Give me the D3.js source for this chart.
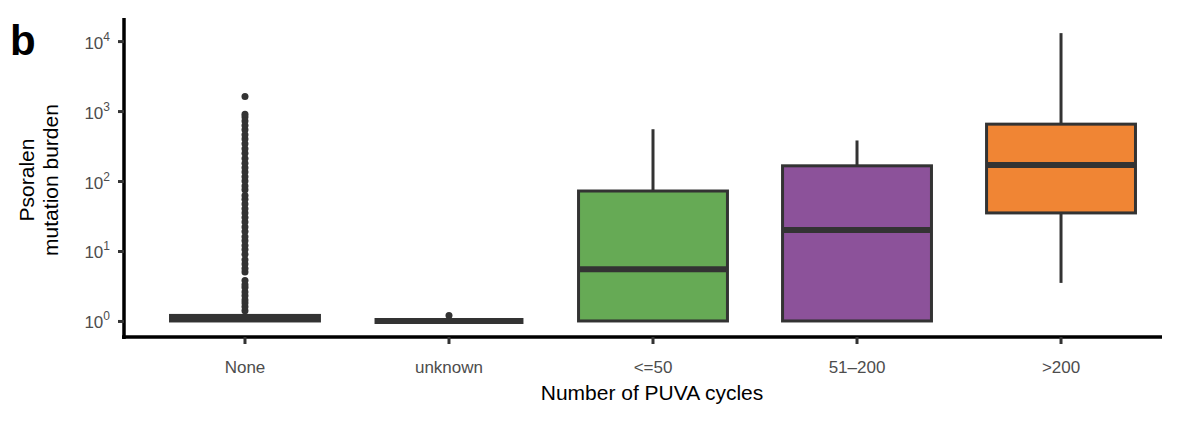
<!DOCTYPE html>
<html><head><meta charset="utf-8">
<script src="https://cdn.jsdelivr.net/npm/d3@7"></script>
<style>body{margin:0;background:#fff}text{font-family:"Liberation Sans",Arial,sans-serif}</style>
</head><body><div id="graph"></div>
<script>
var w = 1200, h = 424

var categories = ['None', 'unknown', '<=50', '51\u2013200', '>200']
var colors = ['#ffffff', '#ffffff', '#66aa55', '#8c529a', '#f08534']
// box stats: [whiskerLow, q1, median, q3, whiskerHigh]
var stats = [
  [1, 1.0, 1.1, 1.2, 1.2],
  [1, 1, 1, 1, 1],
  [1, 1, 5.5, 72, 550],
  [1, 1, 20, 165, 380],
  [3.5, 35, 170, 650, 13000]
]
var outliersNone = [1.4,1.6,1.8,2,2.3,2.6,3,3.3,3.8,5,5.6,6.5,7.5,9,10.5,12,14,16,19,22,26,30,35,40,47,55,62,75,85,100,115,135,155,180,210,250,290,340,400,460,540,620,720,820,900,1620]
var outliersUnknown = [1.2]
var yTicks = [1, 10, 100, 1000, 10000]

var svg = d3.select('#graph').append('svg').attr('width', w).attr('height', h)

var x = d3.scaleBand().domain(categories).range([144, 1162]).paddingInner(0.27).paddingOuter(0.13)
var y = d3.scaleLog().domain([0.59, 10 ** 4.33]).range([337, 18])

var bw = x.bandwidth()
var g = svg.append('g')

stats.forEach(function(s, i){
  var c = categories[i], cx = x(c) + bw / 2
  g.append('line').attr('x1', cx).attr('x2', cx).attr('y1', y(s[0])).attr('y2', y(s[4]))
    .attr('stroke', '#333').attr('stroke-width', 3)
  g.append('rect').attr('x', x(c)).attr('width', bw)
    .attr('y', y(s[3])).attr('height', Math.max(0, y(s[1]) - y(s[3])))
    .attr('fill', colors[i]).attr('stroke', '#333').attr('stroke-width', 3)
  g.append('line').attr('x1', x(c)).attr('x2', x(c) + bw).attr('y1', y(s[2])).attr('y2', y(s[2]))
    .attr('stroke', '#333').attr('stroke-width', 6)
})

function dots(vals, c){
  g.selectAll(null).data(vals).enter().append('circle')
    .attr('cx', x(c) + bw / 2).attr('cy', function(d){ return y(d) }).attr('r', 3.5).attr('fill', '#333')
}
dots(outliersNone, 'None')
dots(outliersUnknown, 'unknown')

var yAxis = svg.append('g').attr('transform', 'translate(124,0)')
  .call(d3.axisLeft(y).tickValues(yTicks).tickSize(6).tickFormat(''))
yAxis.select('.domain').attr('d', 'M0,18V339').attr('stroke-width', 3.5)
yAxis.selectAll('.tick line').attr('stroke', '#333').attr('stroke-width', 3)
yAxis.selectAll('.tick').each(function(d){
  var t = d3.select(this).append('text').attr('x', -14).attr('y', 7).attr('text-anchor', 'end')
    .attr('fill', '#4d4d4d').attr('font-size', 17)
  t.append('tspan').text('10')
  t.append('tspan').attr('dy', -8).attr('font-size', 12).text(Math.round(Math.log10(d)))
})

var xAxis = svg.append('g').attr('transform', 'translate(0,337)')
  .call(d3.axisBottom(x).tickSize(7).tickSizeOuter(0))
xAxis.select('.domain').attr('d', 'M122,0H1162').attr('stroke-width', 3.5)
xAxis.selectAll('.tick line').attr('stroke', '#333').attr('stroke-width', 3)
xAxis.selectAll('.tick text').attr('fill', '#4d4d4d').attr('font-size', 17).attr('dy', '1.5em')

svg.append('text').attr('x', 652).attr('y', 400).attr('text-anchor', 'middle')
  .attr('font-size', 21).text('Number of PUVA cycles')
var yl = svg.append('text').attr('transform', 'translate(34,180) rotate(-90)').attr('text-anchor', 'middle').attr('font-size', 21)
yl.append('tspan').attr('x', 0).text('Psoralen')
yl.append('tspan').attr('x', 0).attr('dy', 24).text('mutation burden')

svg.append('text').attr('x', 10).attr('y', 55).attr('font-size', 42).attr('font-weight', 'bold').text('b')
</script></body></html>
